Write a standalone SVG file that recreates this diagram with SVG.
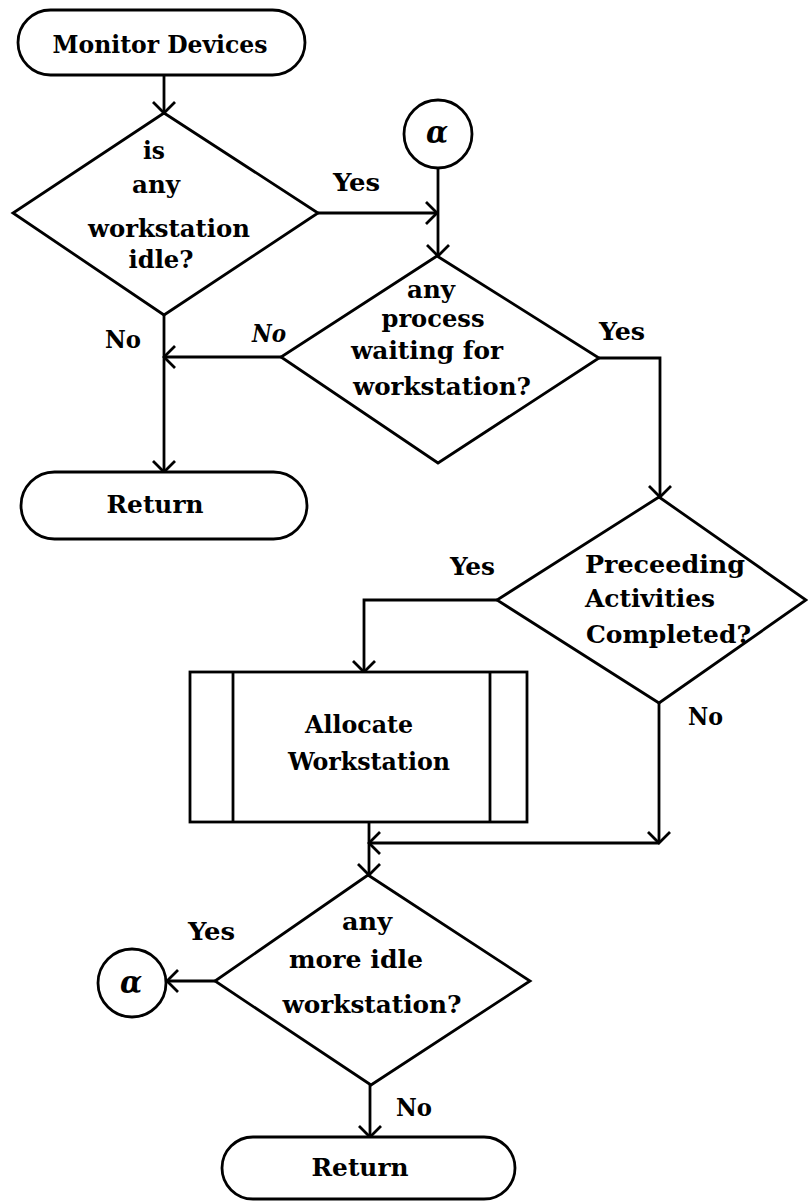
<svg xmlns="http://www.w3.org/2000/svg" width="808" height="1202" viewBox="0 0 808 1202">
  <style>
    .shape { fill: #fff; stroke: #000; stroke-width: 2.8; }
    .line { fill: none; stroke: #000; stroke-width: 2.8; }
    text { font-family: "DejaVu Serif Condensed", "DejaVu Serif", serif; font-weight: bold; font-size: 25px; fill: #000; }
    .c { text-anchor: middle; }
    .alpha { font-style: italic; font-size: 32px; font-weight: bold; }
    .it { font-style: italic; }
  </style>
  <defs>
    <marker id="arrow" markerUnits="userSpaceOnUse" markerWidth="30" markerHeight="30" refX="15" refY="15" orient="auto" overflow="visible">
      <path d="M4,4 L15,15 L4,26" fill="none" stroke="#000" stroke-width="2.8"/>
    </marker>
  </defs>

  <rect width="808" height="1202" fill="#fff"/>

  <!-- connectors -->
  <g id="connectors">
    <path class="line" d="M164,75 L164,113" marker-end="url(#arrow)"/>
    <path class="line" d="M318,213 L437,213" marker-end="url(#arrow)"/>
    <path class="line" d="M438,168 L438,256" marker-end="url(#arrow)"/>
    <path class="line" d="M281,357 L164,357" marker-end="url(#arrow)"/>
    <path class="line" d="M164,315 L164,472" marker-end="url(#arrow)"/>
    <path class="line" d="M599,358 L660,358 L660,497" marker-end="url(#arrow)"/>
    <path class="line" d="M497,600 L364,600 L364,672" marker-end="url(#arrow)"/>
    <path class="line" d="M659,703 L659,843" marker-end="url(#arrow)"/>
    <path class="line" d="M659,843 L369,843" marker-end="url(#arrow)"/>
    <path class="line" d="M369,822 L369,875" marker-end="url(#arrow)"/>
    <path class="line" d="M215,981 L167,981" marker-end="url(#arrow)"/>
    <path class="line" d="M370,1085 L370,1137" marker-end="url(#arrow)"/>

    <text x="333" y="191" textLength="47" lengthAdjust="spacingAndGlyphs">Yes</text>
    <text x="105" y="348" textLength="36" lengthAdjust="spacingAndGlyphs">No</text>
    <text class="it" x="252" y="342" textLength="34" lengthAdjust="spacingAndGlyphs">No</text>
    <text x="599" y="340" textLength="46" lengthAdjust="spacingAndGlyphs">Yes</text>
    <text x="450" y="575" textLength="45" lengthAdjust="spacingAndGlyphs">Yes</text>
    <text x="688" y="725" textLength="35" lengthAdjust="spacingAndGlyphs">No</text>
    <text x="188" y="940" textLength="47" lengthAdjust="spacingAndGlyphs">Yes</text>
    <text x="396" y="1116" textLength="36" lengthAdjust="spacingAndGlyphs">No</text>
  </g>

  <!-- start terminal -->
  <g id="monitor-devices">
    <rect class="shape" x="18" y="10" width="287" height="65" rx="32.5"/>
    <text class="c" x="160" y="53" textLength="215" lengthAdjust="spacingAndGlyphs">Monitor Devices</text>
  </g>

  <!-- decision: idle workstation -->
  <g id="idle-check">
    <polygon class="shape" points="164,113 318,213 164,315 13,213"/>
    <text class="c" x="154" y="159" textLength="22" lengthAdjust="spacingAndGlyphs">is</text>
    <text class="c" x="156" y="193" textLength="48" lengthAdjust="spacingAndGlyphs">any</text>
    <text class="c" x="169" y="237" textLength="162" lengthAdjust="spacingAndGlyphs">workstation</text>
    <text class="c" x="161" y="268" textLength="65" lengthAdjust="spacingAndGlyphs">idle?</text>
  </g>

  <!-- connector alpha (entry) -->
  <g id="alpha-entry">
    <circle class="shape" cx="438" cy="134" r="34"/>
    <text class="c alpha" x="437" y="143">α</text>
  </g>

  <!-- decision: process waiting -->
  <g id="process-waiting">
    <polygon class="shape" points="437,256 599,358 438,463 281,357"/>
    <text class="c" x="431" y="298" textLength="48" lengthAdjust="spacingAndGlyphs">any</text>
    <text class="c" x="433" y="327" textLength="103" lengthAdjust="spacingAndGlyphs">process</text>
    <text class="c" x="427" y="359" textLength="152" lengthAdjust="spacingAndGlyphs">waiting for</text>
    <text class="c" x="442" y="395" textLength="178" lengthAdjust="spacingAndGlyphs">workstation?</text>
  </g>

  <!-- first return -->
  <g id="return-1">
    <rect class="shape" x="21" y="472" width="286" height="67" rx="33.5"/>
    <text class="c" x="155" y="513" textLength="97" lengthAdjust="spacingAndGlyphs">Return</text>
  </g>

  <!-- decision: preceding activities -->
  <g id="preceding-check">
    <polygon class="shape" points="659,497 806,600 659,703 497,600"/>
    <text x="585" y="573" textLength="160" lengthAdjust="spacingAndGlyphs">Preceeding</text>
    <text x="585" y="607" textLength="130" lengthAdjust="spacingAndGlyphs">Activities</text>
    <text x="586" y="643" textLength="165" lengthAdjust="spacingAndGlyphs">Completed?</text>
  </g>

  <!-- predefined process: allocate -->
  <g id="allocate">
    <rect class="shape" x="190" y="672" width="337" height="150"/>
    <line class="line" x1="233" y1="672" x2="233" y2="822"/>
    <line class="line" x1="490" y1="672" x2="490" y2="822"/>
    <text class="c" x="359" y="733" textLength="108" lengthAdjust="spacingAndGlyphs">Allocate</text>
    <text class="c" x="369" y="770" textLength="162" lengthAdjust="spacingAndGlyphs">Workstation</text>
  </g>

  <!-- decision: more idle -->
  <g id="more-idle">
    <polygon class="shape" points="368,875 530,981 371,1085 215,981"/>
    <text class="c" x="367" y="930" textLength="50" lengthAdjust="spacingAndGlyphs">any</text>
    <text class="c" x="356" y="968" textLength="134" lengthAdjust="spacingAndGlyphs">more idle</text>
    <text class="c" x="372" y="1013" textLength="179" lengthAdjust="spacingAndGlyphs">workstation?</text>
  </g>

  <!-- connector alpha (exit) -->
  <g id="alpha-exit">
    <circle class="shape" cx="132" cy="983" r="34"/>
    <text class="c alpha" x="131" y="993">α</text>
  </g>

  <!-- final return -->
  <g id="return-2">
    <rect class="shape" x="222" y="1137" width="293" height="62" rx="31"/>
    <text class="c" x="360" y="1176" textLength="97" lengthAdjust="spacingAndGlyphs">Return</text>
  </g>
</svg>
